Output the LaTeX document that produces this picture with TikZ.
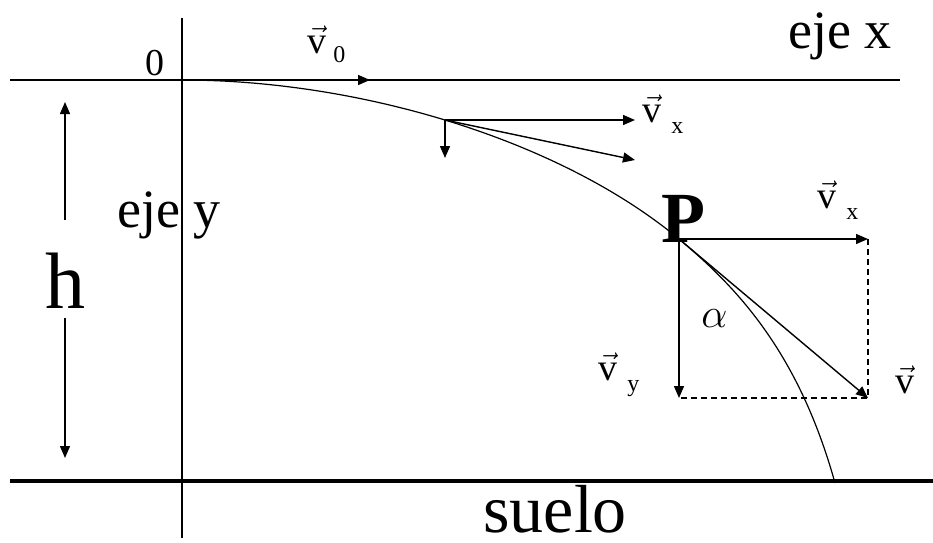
\documentclass[tikz,border=0pt]{standalone}
\usepackage{fontspec}
\setmainfont{Liberation Serif}
\usetikzlibrary{arrows.meta}
\newcommand{\vv}{$\vec{\mbox{v}}$}
\newcommand{\vsub}[1]{\vv\hspace{5pt}\raisebox{-5.5pt}{\fontsize{12}{12}\selectfont #1}}

\begin{document}
\begin{tikzpicture}[x=0.5pt, y=-0.5pt,
		>={Triangle[length=6pt,width=5pt]},   %Pfeilspitzen
		axis/.style={line width=0.75pt},
		vec/.style={->, line width=0.7pt},
		aux/.style={dash pattern=on 3pt off 2pt, line width=0.6pt},
		lbl/.style={anchor=base west, inner sep=0pt},
		vlbl/.style={lbl, font=\fontsize{19}{19}\selectfont}]
		\useasboundingbox (0,0) rectangle (933,542);
		% Punkte
		\coordinate (O) at (182,80);
		\coordinate (Q) at (445,120);
		\coordinate (P) at (679,239);
		\coordinate (G) at (835,483);
		\coordinate (v0tip) at (370,80);
		% Achsen zeichnen
		\draw[axis] (10,80) coordinate (xl) -- (900,80) coordinate (xr);
		\draw[axis] (182,18) coordinate (yt) -- (182,538) coordinate (yb);
		\draw[line width=2pt] (10,481) coordinate (gl) -- (933,481) coordinate (gr);
		% Achsen beschriften
		\node[lbl, font=\fontsize{19}{19}\selectfont] (n0) at (145,75) {0};
		\node[lbl, font=\fontsize{27}{27}\selectfont] (ejex) at (788,48) {eje x};
		\node[lbl, font=\fontsize{27}{27}\selectfont] (ejey) at (117,227) {eje y};
		\node[lbl, font=\fontsize{34}{34}\selectfont] (suelo) at (483,532) {suelo};
		% Hoehe h
		\node[anchor=base, inner sep=0pt, font=\fontsize{40}{40}\selectfont] (hlbl) at (66,308) {h};
		\coordinate (htop) at (65,102);
		\coordinate (hbot) at (65,458);
		\draw[vec] ([yshift=16pt]hlbl.north -| htop) -- (htop);
		\draw[vec] ([yshift=-5pt]hlbl.south -| hbot) -- (hbot);
		% Bahnkurve
		\draw[line width=0.6pt] (O) .. controls (360,80) and (560,140) .. (P)
			.. controls (735,286) and (798,350) .. (G);
		% Anfangsgeschwindigkeit
		\draw[vec] (O) -- (v0tip);
		\node[vlbl] (v0lbl) at (307,53) {\vv\hspace{3.5pt}\raisebox{-4.5pt}{\fontsize{12}{12}\selectfont 0}};
		% Geschwindigkeit im Punkt Q
		\coordinate (Qx) at (635,120);
		\coordinate (Qv) at (635,160);
		\coordinate (Qy) at (445,158);
		\draw[vec] (Q) -- (Qx);
		\draw[vec] (Q) -- (Qv);
		\draw[vec] (Q) -- (Qy);
		\node[vlbl] (vxQ) at (642,122) {\vsub{x}};
		% Geschwindigkeit im Punkt P
		\coordinate (Px) at (868,239);
		\coordinate (Py) at (679,398);
		\coordinate (Pv) at (868,398);
		\draw[aux] (Px) -- (Pv) -- (Py);
		\draw[vec] (P) -- (Px);
		\draw[vec] (P) -- (Py);
		\draw[vec] (P) -- (Pv);
		\node[lbl, font=\fontsize{36}{36}\selectfont\bfseries] (Plbl) at (661,242) {P};
		\node[vlbl] (vxP) at (817,208) {\vsub{x}};
		\node[vlbl] (vyP) at (598,380) {\vsub{y}};
		\node[vlbl] (vP) at (895,393) {\vv};
		\node[lbl, font=\fontsize{20}{20}\selectfont] (alpha) at (701,327) {$\alpha$};
	\end{tikzpicture}
\end{document}
